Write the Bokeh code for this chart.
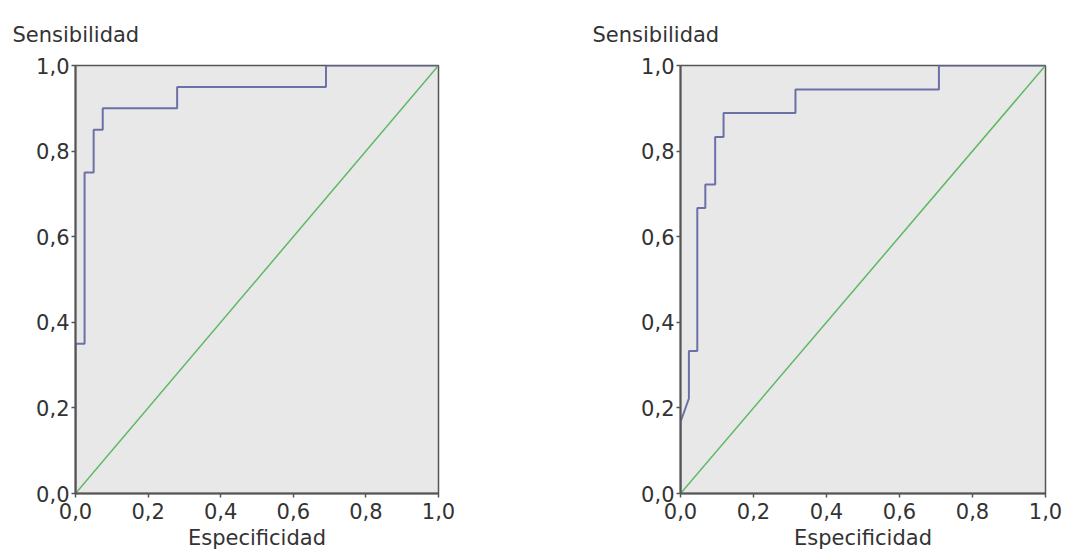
from bokeh.plotting import figure
from bokeh.layouts import row
from bokeh.models import Range1d, FixedTicker, CustomJSTickFormatter, Title
from bokeh.embed import file_html
from bokeh.resources import INLINE

# ROC curve coordinates (1 - especificidad, sensibilidad)
left_fpr = [0.0, 0.0, 0.025, 0.025, 0.05, 0.05, 0.075, 0.075, 0.28, 0.28, 0.69, 0.69, 1.0]
left_tpr = [0.0, 0.35, 0.35, 0.75, 0.75, 0.85, 0.85, 0.90, 0.90, 0.95, 0.95, 1.0, 1.0]

right_fpr = [0.0, 0.0, 0.023, 0.023, 0.046, 0.046, 0.068, 0.068, 0.095, 0.095,
             0.118, 0.118, 0.315, 0.315, 0.708, 0.708, 1.0]
right_tpr = [0.0, 0.167, 0.222, 0.333, 0.333, 0.667, 0.667, 0.722, 0.722, 0.833,
             0.833, 0.889, 0.889, 0.944, 0.944, 1.0, 1.0]

ref_line = [0.0, 1.0]
tick_values = [0.0, 0.2, 0.4, 0.6, 0.8, 1.0]
y_title = "Sensibilidad"
x_title = "Especificidad"

FONT = "DejaVu Sans"
FS = "21px"
BG = "#E8E8E8"
AXIS = "#555555"
BLUE = "#6C70A8"
GREEN = "#5DB862"
TXT = "#333333"


def make_plot(fpr, tpr, width, border_left, border_right, title_offset):
    p = figure(width=width, height=554, output_backend="svg", toolbar_location=None,
               x_range=Range1d(0, 1), y_range=Range1d(0, 1),
               min_border_left=border_left, min_border_right=border_right,
               min_border_top=65, min_border_bottom=61)
    p.background_fill_color = BG
    p.border_fill_color = "white"
    p.outline_line_color = AXIS
    p.outline_line_width = 1.5
    p.xgrid.visible = False
    p.ygrid.visible = False

    fmt = CustomJSTickFormatter(code="return tick.toFixed(1).replace('.', ',');")
    for ax in (p.xaxis[0], p.yaxis[0]):
        ax.ticker = FixedTicker(ticks=tick_values)
        ax.formatter = fmt
        ax.axis_line_color = AXIS
        ax.axis_line_width = 2
        ax.major_tick_line_color = AXIS
        ax.major_tick_line_width = 1.5
        ax.major_tick_out = 4
        ax.major_tick_in = 0
        ax.minor_tick_line_color = None
        ax.major_label_text_font = FONT
        ax.major_label_text_font_size = FS
        ax.major_label_text_color = TXT
    p.yaxis.major_label_standoff = 2
    p.xaxis.major_label_standoff = 5
    p.xaxis.axis_label = x_title
    p.xaxis.axis_label_text_font = FONT
    p.xaxis.axis_label_text_font_size = FS
    p.xaxis.axis_label_text_font_style = "normal"
    p.xaxis.axis_label_text_color = TXT
    p.xaxis.axis_label_standoff = 4

    p.add_layout(Title(text=y_title, align="left", offset=title_offset,
                       text_font=FONT, text_font_size=FS, text_font_style="normal",
                       text_color=TXT, standoff=38), "above")

    p.line(ref_line, ref_line, line_color=GREEN, line_width=1.5)
    p.line(fpr, tpr, line_color=BLUE, line_width=2)
    return p


p1 = make_plot(left_fpr, left_tpr, 540, 75, 102, -63)
p2 = make_plot(right_fpr, right_tpr, 526, 140, 21, -88)

layout = row(p1, p2, spacing=0)
open("out.html", "w").write(file_html(layout, INLINE))
